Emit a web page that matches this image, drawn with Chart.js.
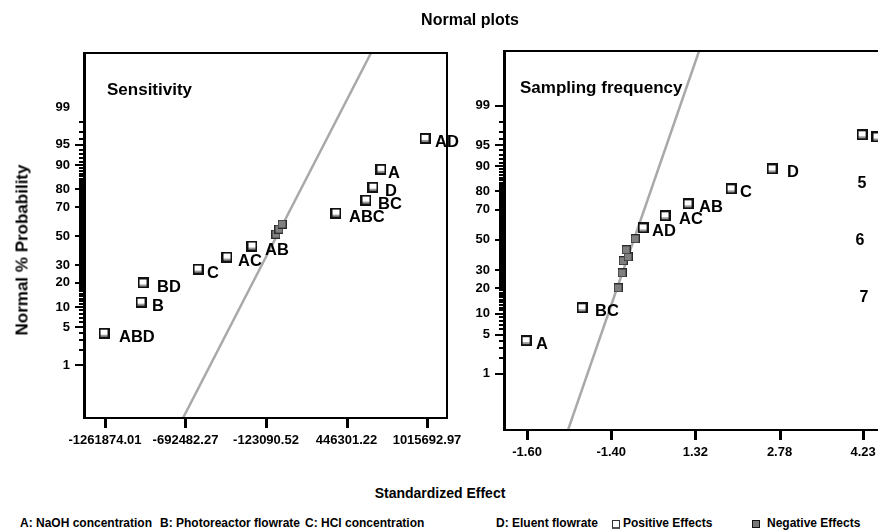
<!DOCTYPE html>
<html>
<head>
<meta charset="utf-8">
<script src="https://cdn.jsdelivr.net/npm/chart.js@4.4.0/dist/chart.umd.min.js"></script>
<style>
    html, body { margin: 0; padding: 0; background: #fff; }
    #page { position: relative; width: 878px; height: 531px; overflow: hidden;
            font-family: "Liberation Sans", Arial, sans-serif; font-weight: bold; color: #000; }
    .txt { position: absolute; white-space: nowrap; line-height: 1; }
    canvas { position: absolute; top: 0; }
    #leftCanvas { left: 0; }
    #rightCanvas { left: 440px; }
    .icon { position: absolute; width: 6px; height: 6px; }
</style>
</head>
<body>
<div id="page">
    <canvas id="leftCanvas" width="470" height="470"></canvas>
    <canvas id="rightCanvas" width="500" height="470"></canvas>

    <div class="txt" style="left:470px; top:12px; font-size:16px; transform:translateX(-50%);">Normal plots</div>
    <div class="txt" style="left:22px; top:250px; font-size:17px; transform:translate(-50%,-50%) rotate(-90deg);">Normal % Probability</div>
    <div class="txt" style="left:440px; top:486px; font-size:14px; transform:translateX(-50%);">Standardized Effect</div>

    <div class="txt" style="left:862px; top:175px; font-size:16px; transform:translateX(-50%);">5</div>
    <div class="txt" style="left:860px; top:232px; font-size:16px; transform:translateX(-50%);">6</div>
    <div class="txt" style="left:864px; top:289px; font-size:16px; transform:translateX(-50%);">7</div>

    <div class="txt" style="left:20px; top:517px; font-size:12px;">A: NaOH concentration</div>
    <div class="txt" style="left:160px; top:517px; font-size:12px;">B: Photoreactor flowrate</div>
    <div class="txt" style="left:305px; top:517px; font-size:12px;">C: HCl concentration</div>
    <div class="txt" style="left:496px; top:517px; font-size:12px;">D: Eluent flowrate</div>
    <div class="icon" style="left:612px; top:520px; background:#fff; border:1px solid #333; border-bottom:2px solid #555;"></div>
    <div class="txt" style="left:623px; top:517px; font-size:12px;">Positive Effects</div>
    <div class="icon" style="left:752px; top:520px; background:#777; border:1px solid #111;"></div>
    <div class="txt" style="left:767px; top:517px; font-size:12px;">Negative Effects</div>
</div>

<script>
// ---- Sensitivity panel (left) ----
const leftEffectNames = ['ABD', 'B', 'BD', 'C', 'AC', 'AB', 'ABC', 'BC', 'D', 'A', 'AD'];
const leftEffectX = [-1268900, -1007200, -993000, -604000, -399000, -222200, 372000, 584200, 633700, 690300, 1001600];
const leftEffectP = [4.0, 11.7, 19.9, 27.6, 35.3, 42.9, 66.1, 74.2, 81.1, 88.6, 96.1];
const leftErrorX = [-52400, -31200, -9900];
const leftErrorP = [51.4, 55.0, 58.6];
const leftLineX = [-710200, 619600];
const leftLineP = [0.052, 99.952];
const leftTickValues = [-1261874.01, -692482.27, -123090.52, 446301.22, 1015692.97];
const leftTickLabels = ['-1261874.01', '-692482.27', '-123090.52', '446301.22', '1015692.97'];

// ---- Sampling frequency panel (right) ----
const rightEffectNames = ['A', 'BC', 'AD', 'AC', 'AB', 'C', 'D'];
const rightEffectX = [-1.617, -0.646, 0.413, 0.794, 1.193, 1.939, 2.651];
const rightEffectP = [4.0, 11.9, 58.2, 66.2, 73.4, 81.2, 89.1];
const rightFarX = [4.212, 4.47];
const rightFarP = [96.6, 96.3];
const rightErrorX = [-0.021, 0.048, 0.066, 0.152, 0.118, 0.274];
const rightErrorP = [20.2, 28.3, 35.8, 38.4, 43.1, 50.7];
const rightLineX = [-0.889, 1.384];
const rightLineP = [0.048, 99.948];
const rightTickValues = [-1.60, -0.14, 1.32, 2.78, 4.23];
const rightTickLabels = ['-1.60', '-1.40', '1.32', '2.78', '4.23'];

// ---- probability axis ----
const probTickValues = [1, 5, 10, 20, 30, 50, 70, 80, 90, 95, 99];
const probTickLabels = ['1', '5', '10', '20', '30', '50', '70', '80', '90', '95', '99'];
const probMinorTicks = Array.from({ length: 98 }, (_, i) => i + 1);

const FONT = '"Liberation Sans", Arial, sans-serif';

// inverse normal CDF (Acklam)
function probit(p) {
    const a = [-3.969683028665376e+01, 2.209460984245205e+02, -2.759285104469687e+02, 1.383577518672690e+02, -3.066479806614716e+01, 2.506628277459239e+00];
    const b = [-5.447609879822406e+01, 1.615858368580409e+02, -1.556989798598866e+02, 6.680131188771972e+01, -1.328068155288572e+01];
    const c = [-7.784894002430293e-03, -3.223964580411365e-01, -2.400758277161838e+00, -2.549732539343734e+00, 4.374664141464968e+00, 2.938163982698783e+00];
    const d = [7.784695709041462e-03, 3.224671290700398e-01, 2.445134137142996e+00, 3.754408661907416e+00];
    const pl = 0.02425;
    if (p < pl) {
        const q = Math.sqrt(-2 * Math.log(p));
        return (((((c[0] * q + c[1]) * q + c[2]) * q + c[3]) * q + c[4]) * q + c[5]) / ((((d[0] * q + d[1]) * q + d[2]) * q + d[3]) * q + 1);
    }
    if (p > 1 - pl) {
        const q = Math.sqrt(-2 * Math.log(1 - p));
        return -(((((c[0] * q + c[1]) * q + c[2]) * q + c[3]) * q + c[4]) * q + c[5]) / ((((d[0] * q + d[1]) * q + d[2]) * q + d[3]) * q + 1);
    }
    const q = p - 0.5, r = q * q;
    return (((((a[0] * r + a[1]) * r + a[2]) * r + a[3]) * r + a[4]) * r + a[5]) * q / (((((b[0] * r + b[1]) * r + b[2]) * r + b[3]) * r + b[4]) * r + 1);
}

// normal probability scale: values in percent, spaced by probit
class ProbitScale extends Chart.LinearScale {
    static id = 'probit';
    static defaults = Chart.LinearScale.defaults;
    configure() {
        super.configure();
        this._zMin = probit(this.min / 100);
        this._zMax = probit(this.max / 100);
    }
    getPixelForValue(value) {
        return this.getPixelForDecimal((probit(value / 100) - this._zMin) / (this._zMax - this._zMin));
    }
    getValueForPixel() {
        return this.min;
    }
}
Chart.register(ProbitScale);

// point symbols
function effectSquare() {
    const c = document.createElement('canvas');
    c.width = 11; c.height = 11;
    const g = c.getContext('2d');
    g.fillStyle = '#111';
    g.fillRect(0, 0, 11, 11);
    g.fillStyle = '#fff';
    g.fillRect(2, 2, 7, 5);
    g.fillStyle = '#9a9a9a';
    g.fillRect(2, 7, 7, 2);
    return c;
}
function errorSquare() {
    const c = document.createElement('canvas');
    c.width = 9; c.height = 9;
    const g = c.getContext('2d');
    g.fillStyle = '#2a2a2a';
    g.fillRect(0, 0, 9, 9);
    g.fillStyle = '#808080';
    g.fillRect(1, 1, 7, 7);
    return c;
}
const effectIcon = effectSquare();
const errorIcon = errorSquare();

// label nudges (text start relative to point centre)
const labelNudge = {
    left: { ABD: 15, B: 11, BD: 14, C: 9, AC: 11, AB: 13, ABC: 13, BC: 12, D: 12, A: 7, AD: 10 },
    right: { A: 10, BC: 13, AD: 9, AC: 14, AB: 11, C: 9, D: 15 }
};

// frame box and tick marks, placed with the chart's own scales
const framePlugin = {
    id: 'frame',
    afterDraw(chart, args, opts) {
        const { ctx, chartArea: a } = chart;
        const x = chart.scales.x;
        const y = chart.scales.y;
        ctx.save();
        ctx.fillStyle = '#000';
        ctx.fillRect(a.left - 1, a.top - 1, a.right - a.left + 2, 2);
        ctx.fillRect(a.left - 1, a.bottom - 1, a.right - a.left + 2, 2);
        ctx.fillRect(a.left - 1, a.top - 1, 3, a.bottom - a.top + 2);
        ctx.fillRect(a.right - 1, a.top - 1, 2, a.bottom - a.top + 2);
        x.ticks.forEach(t => {
            const px = Math.round(x.getPixelForValue(t.value));
            ctx.fillRect(px - 1, a.bottom, 3, 10);
        });
        probTickValues.forEach(v => {
            if (opts.hide99 && v === 99) return;
            const py = Math.round(y.getPixelForValue(v));
            ctx.fillRect(a.left - 9, py - 1, 9, 2);
        });
        probMinorTicks.forEach(v => {
            const py = Math.round(y.getPixelForValue(v));
            ctx.fillRect(a.left - 5, py - 1, 5, 2);
        });
        ctx.restore();
    }
};

const labelPlugin = {
    id: 'pointLabels',
    afterDatasetsDraw(chart, args, opts) {
        const ctx = chart.ctx;
        ctx.save();
        ctx.font = 'bold 16.5px ' + FONT;
        ctx.fillStyle = '#000';
        ctx.textBaseline = 'middle';
        chart.data.datasets.forEach((ds, di) => {
            if (!ds.labels) return;
            chart.getDatasetMeta(di).data.forEach((el, i) => {
                const name = ds.labels[i];
                const dx = (opts.nudge && opts.nudge[name]) || 11;
                ctx.fillText(name, el.x + dx, el.y + 4);
            });
        });
        ctx.restore();
    }
};

const titlePlugin = {
    id: 'panelTitle',
    afterDraw(chart, args, opts) {
        const ctx = chart.ctx;
        ctx.save();
        ctx.font = 'bold 17px ' + FONT;
        ctx.fillStyle = '#000';
        ctx.textBaseline = 'middle';
        ctx.fillText(opts.text, chart.chartArea.left + opts.dx, chart.chartArea.top + opts.dy);
        ctx.restore();
    }
};

function points(xs, ps) {
    return xs.map((x, i) => ({ x: x, y: ps[i] }));
}

function buildPanel(canvasId, cfg) {
    const tickFont = { family: FONT, size: 13, weight: 'bold' };
    const datasets = [
        { data: points(cfg.effX, cfg.effP), labels: cfg.names, pointStyle: effectIcon, order: 1 },
        { data: points(cfg.errX, cfg.errP), pointStyle: errorIcon, order: 1 },
        { data: points(cfg.lineX, cfg.lineP), showLine: true, borderColor: '#a9a9a9', borderWidth: 2.5,
          pointRadius: 0, order: 3 }
    ];
    if (cfg.farX) {
        datasets.push({ data: points(cfg.farX, cfg.farP), pointStyle: effectIcon, order: 1 });
    }
    return new Chart(document.getElementById(canvasId), {
        type: 'scatter',
        data: { datasets: datasets },
        options: {
            responsive: false,
            animation: false,
            events: [],
            layout: { padding: { top: cfg.top, right: cfg.padRight, left: 0, bottom: 0 } },
            plugins: {
                legend: { display: false },
                tooltip: { enabled: false },
                frame: { hide99: cfg.hide99 },
                pointLabels: { nudge: cfg.nudge },
                panelTitle: { text: cfg.title, dx: cfg.titleDx, dy: 37 }
            },
            scales: {
                x: {
                    type: 'linear',
                    min: cfg.xMin,
                    max: cfg.xMax,
                    afterBuildTicks: s => { s.ticks = cfg.xTicks.map(v => ({ value: v })); },
                    afterFit: s => { s.height = cfg.xAxisHeight; },
                    grid: { drawOnChartArea: false, drawTicks: true, tickLength: 10, tickColor: 'rgba(0,0,0,0)' },
                    border: { display: false },
                    ticks: {
                        callback: (v, i) => cfg.xLabels[i],
                        font: tickFont, color: '#000', padding: 5,
                        maxRotation: 0, autoSkip: false
                    }
                },
                y: {
                    type: 'probit',
                    min: cfg.yMin,
                    max: cfg.yMax,
                    bounds: 'data',
                    afterBuildTicks: s => { s.ticks = probTickValues.map(v => ({ value: v })); },
                    afterFit: s => { s.width = cfg.yAxisWidth; },
                    grid: { drawOnChartArea: false, drawTicks: true, tickLength: 8, tickColor: 'rgba(0,0,0,0)' },
                    border: { display: false },
                    ticks: {
                        callback: v => probTickLabels[probTickValues.indexOf(v)],
                        font: tickFont, color: '#000', padding: 6, autoSkip: false
                    }
                }
            }
        },
        plugins: [framePlugin, labelPlugin, titlePlugin]
    });
}

buildPanel('leftCanvas', {
    names: leftEffectNames, effX: leftEffectX, effP: leftEffectP,
    errX: leftErrorX, errP: leftErrorP, lineX: leftLineX, lineP: leftLineP,
    xTicks: leftTickValues, xLabels: leftTickLabels,
    xMin: -1410400, xMax: 1157150, yMin: 0.052, yMax: 99.952,
    top: 53, padRight: 23, xAxisHeight: 52, yAxisWidth: 84,
    nudge: labelNudge.left, title: 'Sensitivity', titleDx: 23, hide99: true
});

buildPanel('rightCanvas', {
    names: rightEffectNames, effX: rightEffectX, effP: rightEffectP,
    errX: rightErrorX, errP: rightErrorP, lineX: rightLineX, lineP: rightLineP,
    farX: rightFarX, farP: rightFarP,
    xTicks: rightTickValues, xLabels: rightTickLabels,
    xMin: -2.0, xMax: 5.39, yMin: 0.048, yMax: 99.948,
    top: 51, padRight: 10, xAxisHeight: 40, yAxisWidth: 64,
    nudge: labelNudge.right, title: 'Sampling frequency', titleDx: 16, hide99: false
});
</script>
</body>
</html>
